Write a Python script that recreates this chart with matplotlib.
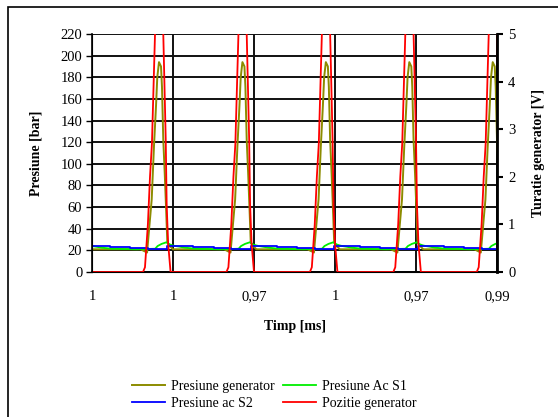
import numpy as np
import matplotlib.pyplot as plt
from matplotlib.patches import Rectangle

plt.rcParams['font.family'] = ['Liberation Serif', 'DejaVu Serif']

# category labels on the time axis
x_labels = ['1', '1', '0,97', '1', '0,97', '0,99']
n_cycles = 5
period = 1.03   # pulse period, in category spacings

# one cycle (time in category spacings)
gen_t = [0.0, 0.60, 0.68, 0.737, 0.765, 0.79, 0.806, 0.827, 0.852, 0.864, 0.88, 0.898, 0.914, 0.93, 0.96, 1.0]
gen_p = [21, 21, 18, 67, 116, 153, 180, 194, 190, 171, 122, 91, 60, 27, 24, 21]

s1_t = [0.0, 0.12, 0.25, 0.55, 0.78, 0.81, 0.86, 0.92, 0.96, 1.0]
s1_p = [24, 22.5, 21.5, 21, 21.5, 24, 26, 27.5, 25.5, 24.5]

s2_t = [0.0, 0.22, 0.47, 0.69, 0.93]
s2_p = [24.3, 23.5, 22.3, 21, 24.3]

poz_t = [0.0, 0.63, 0.654, 0.69, 0.716, 0.74, 0.778, 0.83, 0.88, 0.91, 0.922, 0.94, 0.97, 1.0]
poz_v = [0, 0, 0.1, 1.0, 2.0, 2.7, 5.0, 6.5, 5.0, 2.8, 1.4, 0.6, 0, 0]


def repeat(t, v):
    tt = np.concatenate([np.array(t) + k * period for k in range(n_cycles)])
    return tt, np.tile(v, n_cycles)


fig = plt.figure(figsize=(5.58, 4.17), dpi=100)
ax = fig.add_axes([92 / 558, 1 - 272 / 417, (497 - 92) / 558, (272 - 34) / 417])
ax2 = ax.twinx()

# outer chart frame
fig.patches.append(Rectangle((8 / 558, -0.05), 1.0, 1 - 7 / 417 + 0.05,
                             transform=fig.transFigure, fill=False,
                             edgecolor='black', lw=1.2, clip_on=False))

t, v = repeat(gen_t, gen_p)
l_gen, = ax.plot(t, v, color='#8c8c00', lw=1.4, zorder=3)
t, v = repeat(s1_t, s1_p)
l_s1, = ax.plot(t, v, color='#00ee00', lw=1.3, zorder=3)
t, v = repeat(s2_t, s2_p)
l_s2, = ax.plot(t, v, color='#0000ff', lw=1.3, drawstyle='steps-post', zorder=3)
t, v = repeat(poz_t, poz_v)
l_poz, = ax2.plot(t, v, color='#ff0000', lw=1.3)

ax.set_xlim(0, 5)
ax.set_ylim(0, 220)
ax2.set_ylim(0, 5)
ax.set_yticks(range(0, 221, 20))
ax2.set_yticks(range(0, 6))
ax.set_xticks(range(len(x_labels)))
ax.set_xticklabels(x_labels)

ax.grid(True, color='#111111', lw=1.4, zorder=0)
ax.tick_params(axis='x', length=0, pad=13, labelsize=10.5)
ax.tick_params(axis='y', length=4, pad=3, labelsize=10.5, width=1)
ax2.tick_params(axis='y', length=4, pad=4, labelsize=10.5, width=1.5)

for s in ['top']:
    ax.spines[s].set_visible(False)
    ax2.spines[s].set_visible(False)
ax2.spines['right'].set_linewidth(2)
ax.spines['left'].set_linewidth(1.2)
ax.spines['bottom'].set_linewidth(1.2)

ax.set_ylabel('Presiune [bar]', fontweight='bold', fontsize=10, labelpad=13)
ax2.set_ylabel('Turatie generator [V]', fontweight='bold', fontsize=10, labelpad=12)
ax.set_xlabel('Timp [ms]', fontweight='bold', fontsize=10, labelpad=12)

fig.legend([l_gen, l_s2, l_s1, l_poz],
           ['Presiune generator', 'Presiune ac S2', 'Presiune Ac S1', 'Pozitie generator'],
           ncol=2, frameon=False, fontsize=10, loc='center',
           bbox_to_anchor=(274 / 558, 1 - 395 / 417),
           handlelength=2.4, handletextpad=0.4, columnspacing=0.6, labelspacing=0.25)

plt.savefig('out.png', dpi=100)
